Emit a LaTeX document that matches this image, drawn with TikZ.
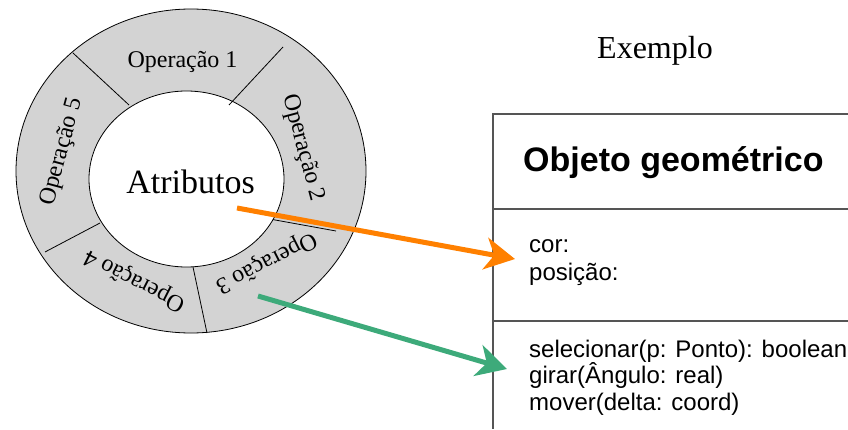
\documentclass[tikz,border=0pt]{standalone}
\usepackage{fontspec}
\setmainfont{Liberation Serif}
\newfontfamily\arialfont{Liberation Sans}
\usetikzlibrary{arrows.meta,shapes.geometric}
\definecolor{ringgray}{HTML}{D3D3D3}
\definecolor{boxline}{HTML}{555555}
\definecolor{attrorange}{HTML}{FF8000}
\definecolor{opgreen}{HTML}{3DAA7A}
\tikzset{
  opname/.style={font=\fontsize{24}{28}\selectfont, inner sep=0pt},
  ringline/.style={draw=black, line width=0.8pt},
  classline/.style={draw=boxline, line width=1.5pt},
  link/.style={line width=5pt, -{Stealth[length=30pt,width=32pt,inset=9pt]}},
  classtext/.style={font=\arialfont\fontsize{24}{28}\selectfont, inner sep=0pt, align=left, anchor=base west},
}
\begin{document}
\begin{tikzpicture}[x=1pt,y=1pt]
\useasboundingbox (0,0) rectangle (848,429);
% ring
\node[ellipse, ringline, fill=ringgray, minimum width=350pt, minimum height=324pt, inner sep=0pt] (ring) at (191,258) {};
\node[ellipse, ringline, fill=white, minimum width=195pt, minimum height=176pt, inner sep=0pt] (core) at (186.5,250) {};
% dividing lines
\draw[ringline] (73,376) -- (129,324);
\draw[ringline] (283,382) -- (229,324);
\draw[ringline] (273,209.4) -- (336,198);
\draw[ringline] (193,162) -- (207,96);
\draw[ringline] (100,206) -- (45,177);
% ring texts
\node[opname, anchor=base] (op1) at (182.5,361) {Operação 1};
\node[opname, rotate=-75] (op2) at (303,281) {Operação 2};
\node[opname, rotate=207] (op3) at (266,167) {Operação 3};
\node[opname, rotate=153] (op4) at (135,149) {Operação 4};
\node[opname, rotate=75] (op5) at (62,277) {Operação 5};
\node[font=\fontsize{34}{40}\selectfont, inner sep=0pt, anchor=base] (attrs) at (190.5,236) {Atributos};
% example title
\node[font=\fontsize{32}{38}\selectfont, inner sep=0pt, anchor=base west] (ex) at (597,370) {Exemplo};
% class box
\coordinate (tl) at (493,315);
\coordinate (tr) at (848,315);
\coordinate (ml) at (493,220);
\coordinate (mr) at (848,220);
\coordinate (nl) at (493,108);
\coordinate (nr) at (848,108);
\coordinate (bl) at (493,0);
\draw[classline] (tr) -- (tl) -- (bl);
\draw[classline] (ml) -- (mr);
\draw[classline] (nl) -- (nr);
\node[font=\arialfont\bfseries\fontsize{34}{40}\selectfont, inner sep=0pt, anchor=base west] (cname) at (523,258) {Objeto geométrico};
\node[classtext] (cattrs) at (529,149) {cor:\\posição:};
\node[classtext, font=\arialfont\fontsize{24}{26.5}\selectfont] (cops) at (529,19) {selecionar(p: Ponto): boolean\\girar(Ângulo: real)\\mover(delta: coord)};
% connectors
\coordinate (attrsrc) at (237,221);
\coordinate (attrtip) at (515,170);
\coordinate (opsrc) at (258,133);
\coordinate (optip) at (507,60);
\draw[link, attrorange] (attrsrc) -- (attrtip);
\draw[link, opgreen] (opsrc) -- (optip);
\end{tikzpicture}
\end{document}
